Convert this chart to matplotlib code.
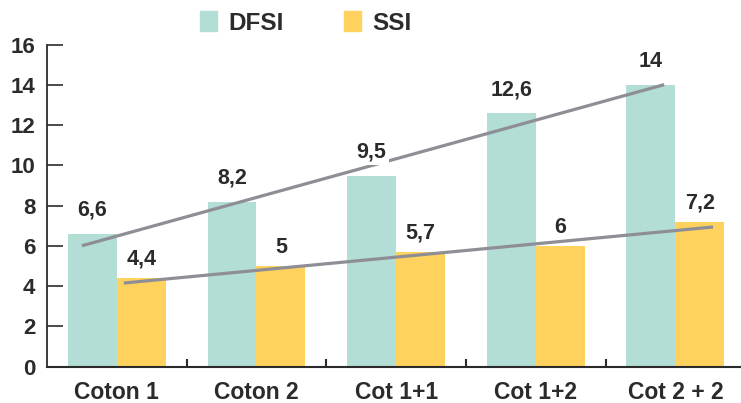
import numpy as np
import matplotlib
matplotlib.use("Agg")
import matplotlib.pyplot as plt
from matplotlib.patches import Patch

categories = ["Coton 1", "Coton 2", "Cot 1+1", "Cot 1+2", "Cot 2 + 2"]
dfsi = [6.6, 8.2, 9.5, 12.6, 14]
ssi = [4.4, 5, 5.7, 6, 7.2]

teal = "#b3ded5"
yellow = "#ffd25e"
grey = "#8e8e96"
dark = "#2b2b2b"

plt.rcParams["font.family"] = ["Liberation Sans", "DejaVu Sans"]
plt.rcParams["font.weight"] = "bold"

fig = plt.figure(figsize=(7.41, 4.03), dpi=100)
ax = fig.add_axes([47 / 741, 36.3 / 403, 1 - 47 / 741, 322 / 403])

x = np.arange(len(categories))
w = 0.35
ax.bar(x - w / 2, dfsi, w, color=teal, zorder=2)
ax.bar(x + w / 2, ssi, w, color=yellow, zorder=2)

# trend lines
k, b = np.polyfit(x, dfsi, 1)
xs = np.array([-0.25, 3.92])
ax.plot(xs, k * xs + b + 0.15, color=grey, lw=2.3, zorder=3, solid_capstyle="butt")
k2, b2 = np.polyfit(x + w / 2, ssi, 1)
xs2 = np.array([0.05, 4.27])
ax.plot(xs2, k2 * xs2 + b2 - 0.1, color=grey, lw=2.3, zorder=3, solid_capstyle="butt")

def fmt(v):
    return ("%g" % v).replace(".", ",")

for xi, v in zip(x, dfsi):
    ax.annotate(fmt(v), (xi - w / 2, v), xytext=(0, 17), textcoords="offset points",
                ha="center", va="center", fontsize=15.5, fontweight="bold", color=dark,
                zorder=4, bbox=dict(fc="white", ec="none", pad=1.5))
for xi, v in zip(x, ssi):
    ax.annotate(fmt(v), (xi + w / 2, v), xytext=(0, 13.5), textcoords="offset points",
                ha="center", va="center", fontsize=15.5, fontweight="bold", color=dark,
                zorder=4)

ax.set_xlim(-0.5, 4.47)
ax.set_ylim(0, 16)
ax.set_yticks(range(0, 17, 2))
ax.set_xticks(x)
ax.set_xticklabels(categories)
ax.set_xticks(x[:-1] + 0.5, minor=True)
ax.tick_params(axis="x", which="major", length=0, pad=10.5, labelsize=16.5, labelcolor=dark)
ax.tick_params(axis="x", which="minor", direction="in", length=6, width=1.5, color=dark)
ax.tick_params(axis="y", direction="in", length=11.5, width=1.2, color=dark, pad=8.5,
               labelsize=16, labelcolor=dark)
for lab in ax.get_xticklabels() + ax.get_yticklabels():
    lab.set_fontweight("bold")

for s in ["top", "right"]:
    ax.spines[s].set_visible(False)
ax.spines["left"].set_color(dark)
ax.spines["bottom"].set_color(dark)
ax.spines["left"].set_linewidth(1.3)
ax.spines["bottom"].set_linewidth(1.5)

handles = [Patch(color=teal, label="DFSI"), Patch(color=yellow, label="SSI")]
leg = fig.legend(handles=handles, loc="center left", bbox_to_anchor=(188 / 741, 1 - 23 / 403),
                 ncol=2, frameon=False, handlelength=0.7, handleheight=0.85,
                 handletextpad=0.45, columnspacing=2.5, borderpad=0,
                 prop={"size": 17.5, "weight": "bold"})
for t in leg.get_texts():
    t.set_color(dark)

fig.savefig("out.png", dpi=100)
